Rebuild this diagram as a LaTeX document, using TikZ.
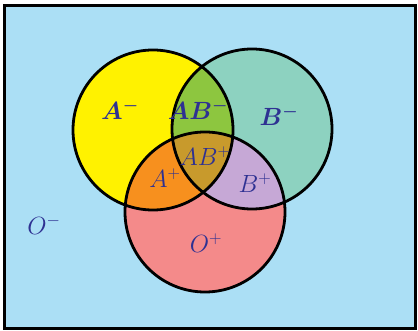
\documentclass[tikz,border=0pt]{standalone}
\usepackage{tikz}
\usetikzlibrary{positioning}
\usepackage{amsmath}
\usepackage{bm}
\usepackage[svgnames]{xcolor}

\definecolor{bgblue}{HTML}{ABDFF5}
\definecolor{setA}{HTML}{FFF200}
\definecolor{setB}{HTML}{8DD2C0}
\definecolor{setO}{HTML}{F48A8A}
\definecolor{setAB}{HTML}{8DC63F}
\definecolor{setAO}{HTML}{F7901E}
\definecolor{setBO}{HTML}{C6A8D6}
\definecolor{setABO}{HTML}{C89A2C}
\definecolor{lbl}{HTML}{2E3192}

\begin{document}
\begin{tikzpicture}[
        x=1pt, y=-1pt,
        font=\fontsize{24}{28}\selectfont,
        ring/.style={draw=black, line width=2.8pt},
        grp/.style={text=lbl, inner sep=0pt},
        frame/.style={draw=black, line width=3pt, fill=bgblue}
    ]
        \useasboundingbox (0,0) rectangle (418,331);
        \draw[frame] (4,6) rectangle (415,329);

        \coordinate (ca) at (153,130);
        \coordinate (cb) at (252,129);
        \coordinate (co) at (205,212);
        \def\rad{80}

        % single sets
        \fill[setA] (ca) circle (\rad);
        \fill[setB] (cb) circle (\rad);
        \fill[setO] (co) circle (\rad);

        % overlaps
        \begin{scope}
            \clip (ca) circle (\rad);
            \fill[setAB] (cb) circle (\rad);
            \fill[setAO] (co) circle (\rad);
        \end{scope}
        \begin{scope}
            \clip (cb) circle (\rad);
            \fill[setBO] (co) circle (\rad);
        \end{scope}
        \begin{scope}
            \clip (ca) circle (\rad);
            \clip (cb) circle (\rad);
            \fill[setABO] (co) circle (\rad);
        \end{scope}

        \draw[ring] (ca) circle (\rad);
        \draw[ring] (cb) circle (\rad);
        \draw[ring] (co) circle (\rad);

        % labels
        \node[grp] (aneg)  at (120,110) {$\bm{A^-}$};
        \node[grp] (abneg) at (198,110) {$\bm{AB^-}$};
        \node[grp] (bneg)  at (279,116) {$\bm{B^-}$};
        \node[grp] (abpos) at (205,156) {$AB^+$};
        \node[grp] (apos)  at (165,178) {$A^+$};
        \node[grp] (bpos)  at (255,183) {$B^+$};
        \node[grp] (opos)  at (206,243) {$O^+$};
        \node[grp] (oneg)  at (44,225)  {$O^-$};
    \end{tikzpicture}
\end{document}
